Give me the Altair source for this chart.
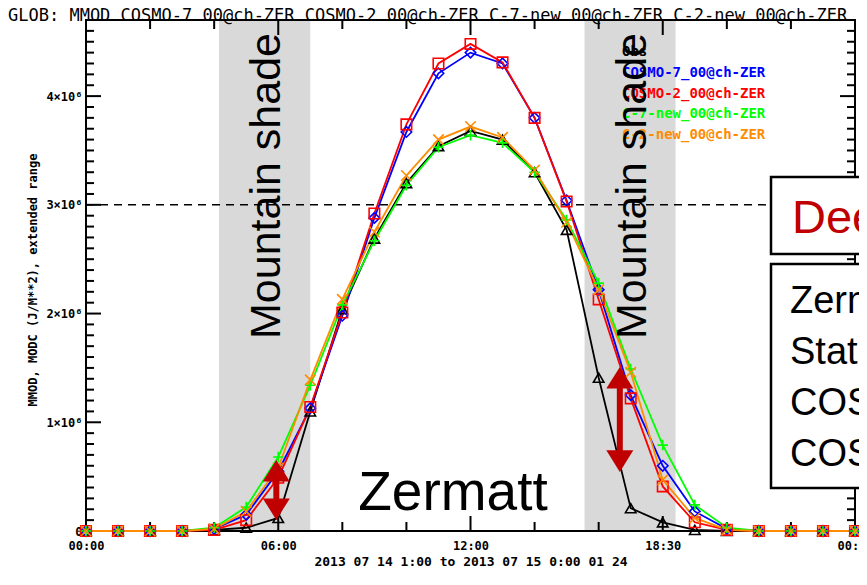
import altair as alt
import pandas as pd

# ---------------- data (values in 10^6 J/m^2) ----------------
hours = list(range(25))
obs    = [0, 0, 0, 0, 0.01, 0.03, 0.12, 1.10, 2.04, 2.69, 3.20, 3.54, 3.68, 3.60, 3.30, 2.77, 1.41, 0.21, 0.08, 0.01, 0, 0, 0, 0, 0]
cosmo7 = [0, 0, 0, 0, 0.02, 0.15, 0.55, 1.13, 1.98, 2.88, 3.67, 4.21, 4.40, 4.30, 3.80, 3.04, 2.22, 1.25, 0.60, 0.18, 0.02, 0, 0, 0, 0]
cosmo2 = [0, 0, 0, 0, 0.01, 0.10, 0.49, 1.14, 2.01, 2.92, 3.74, 4.30, 4.48, 4.31, 3.80, 3.03, 2.13, 1.22, 0.41, 0.08, 0.01, 0, 0, 0, 0]
c7new  = [0, 0, 0, 0, 0.03, 0.22, 0.68, 1.34, 2.08, 2.67, 3.18, 3.53, 3.64, 3.57, 3.30, 2.86, 2.28, 1.49, 0.79, 0.24, 0.03, 0, 0, 0, 0]
c2new  = [0, 0, 0, 0, 0.02, 0.18, 0.58, 1.39, 2.13, 2.75, 3.27, 3.60, 3.72, 3.62, 3.32, 2.84, 2.22, 1.46, 0.47, 0.12, 0.01, 0, 0, 0, 0]

series_names = ["Obs", "COSMO-7_00@ch-ZER", "COSMO-2_00@ch-ZER", "C-7-new_00@ch-ZER", "C-2-new_00@ch-ZER"]
series_values = [obs, cosmo7, cosmo2, c7new, c2new]
series_colors = ["#000000", "#0000ff", "#ff0000", "#00ff00", "#ff8c00"]
series_shapes = ["triangle-up", "diamond", "square", "M-1,0L1,0M0,-1L0,1", "M-1,-1L1,1M-1,1L1,-1"]

shade_start = [4.15, 15.56]
shade_end = [7.0, 18.4]

x_major = [0, 6, 12, 18, 24]
x_minor = [2, 4, 8, 10, 14, 16, 20, 22]
y_major = [0, 1, 2, 3, 4]
y_minor = [i / 10 for i in range(1, 47) if i % 10 != 0]

arrow_x = [5.94, 16.66]
arrow_top = [0.653, 1.509]
arrow_bottom = [0.101, 0.543]

title_text = "GLOB: MMOD COSMO-7 00@ch-ZER COSMO-2 00@ch-ZER C-7-new 00@ch-ZER C-2-new 00@ch-ZER"
ytitle_text = "MMOD, MODC (J/M**2), extended range"
xtitle_text = "2013 07 14 1:00 to 2013 07 15 0:00 01 24"
box2_lines = ["Zermatt", "Station", "COSMO-7", "COSMO-2"]

# ---------------- layout ----------------
W, H = 773, 511
PX24 = 769  # pixel of hour 24
XMAX = 24 * W / PX24
YMAX = 4.70e6

rows = []
for name, vals in zip(series_names, series_values):
    for h, v in zip(hours, vals):
        rows.append({"hour": h, "val": v * 1e6, "series": name})
df = pd.DataFrame(rows)

xs = alt.Scale(domain=[0, XMAX], nice=False, zero=False)
ys = alt.Scale(domain=[0, YMAX], nice=False, zero=False)

x_label_expr = ("datum.value==0?'00:00':datum.value==6?'06:00':datum.value==12?'12:00':"
                "datum.value==18?'18:30':'00:00'")
xax = alt.Axis(values=x_major, labelExpr=x_label_expr, ticks=False, domain=False, grid=False,
               labelFont="DejaVu Sans Mono", labelFontSize=12, labelFontWeight="bold",
               labelColor="black", labelPadding=9, title=None, labelFlush=False)
yax = alt.Axis(values=[v * 1e6 for v in y_major],
               labelExpr="datum.value==0?'0':format(datum.value/1e6,'d')+'×10⁶'",
               ticks=False, domain=False, grid=False,
               labelFont="DejaVu Sans Mono", labelFontSize=12, labelFontWeight="bold",
               labelColor="black", labelPadding=4, title=None)


def X(field, **kw):
    return alt.X(field, scale=xs, axis=xax, **kw)


def Y(field, **kw):
    return alt.Y(field, scale=ys, axis=yax, **kw)


layers = []

# shaded regions
shade_df = pd.DataFrame({"s": shade_start, "e": shade_end})
layers.append(alt.Chart(shade_df).mark_rect(color="#d9d9d9").encode(
    x=X("s:Q"), x2="e:Q", y=alt.value(0), y2=alt.value(H)))

# dashed line at 3e6
dash_df = pd.DataFrame({"x0": [0], "x1": [21.375], "y": [3e6]})
layers.append(alt.Chart(dash_df).mark_rule(color="black", strokeWidth=1.5, strokeDash=[8, 6]).encode(
    x=X("x0:Q"), x2="x1:Q", y=Y("y:Q")))

# frame
one = pd.DataFrame({"a": [0]})
layers.append(alt.Chart(one).mark_rect(fillOpacity=0, stroke="black", strokeWidth=2).encode(
    x=alt.value(0), x2=alt.value(PX24), y=alt.value(0), y2=alt.value(H)))

# tick marks (inward, IDL style)
for vals, ln in [(x_major, 15), (x_minor, 9)]:
    tdf = pd.DataFrame({"t": vals})
    layers.append(alt.Chart(tdf).mark_rule(color="black", strokeWidth=2).encode(
        x=X("t:Q"), y=alt.value(H), y2=alt.value(H - ln)))
    layers.append(alt.Chart(tdf).mark_rule(color="black", strokeWidth=2).encode(
        x=X("t:Q"), y=alt.value(0), y2=alt.value(ln)))
for vals, ln in [(y_major, 15), (y_minor, 8)]:
    tdf = pd.DataFrame({"t": [v * 1e6 for v in vals]})
    layers.append(alt.Chart(tdf).mark_rule(color="black", strokeWidth=2).encode(
        y=Y("t:Q"), x=alt.value(0), x2=alt.value(ln)))
    layers.append(alt.Chart(tdf).mark_rule(color="black", strokeWidth=2).encode(
        y=Y("t:Q"), x=alt.value(PX24 - ln), x2=alt.value(PX24)))

color_scale = alt.Scale(domain=series_names, range=series_colors)
shape_scale = alt.Scale(domain=series_names, range=series_shapes)

layers.append(alt.Chart(df).mark_line(strokeWidth=1.8).encode(
    x=X("hour:Q"), y=Y("val:Q"),
    color=alt.Color("series:N", scale=color_scale, legend=None),
    detail="series:N"))
layers.append(alt.Chart(df).mark_point(filled=False, size=110, strokeWidth=1.6, opacity=1).encode(
    x=X("hour:Q"), y=Y("val:Q"),
    color=alt.Color("series:N", scale=color_scale, legend=None),
    shape=alt.Shape("series:N", scale=shape_scale, legend=None)))

# legend texts
leg_y = [32, 53, 74, 94, 115]
for name, col, yy in zip(series_names, series_colors, leg_y):
    layers.append(alt.Chart(pd.DataFrame({"t": [name]})).mark_text(
        align="left", baseline="middle", font="DejaVu Sans Mono", fontSize=14, fontWeight="bold",
        color=col).encode(x=alt.value(536), y=alt.value(yy), text="t:N"))

# Mountain shade labels
for px in [194, 560]:
    layers.append(alt.Chart(pd.DataFrame({"t": ["Mountain shade"]})).mark_text(
        angle=270, align="center", baseline="alphabetic", font="Liberation Sans", fontSize=43,
        color="black").encode(x=alt.value(px), y=alt.value(166), text="t:N"))

# Zermatt
layers.append(alt.Chart(pd.DataFrame({"t": ["Zermatt"]})).mark_text(
    align="center", baseline="alphabetic", font="Liberation Sans", fontSize=55, color="black").encode(
    x=alt.value(367), y=alt.value(490), text="t:N"))

# red double arrows
adf = pd.DataFrame({"x": arrow_x, "top": [v * 1e6 for v in arrow_top],
                    "bot": [v * 1e6 for v in arrow_bottom]})
adf["stop"] = adf["top"] - 0.12e6
adf["sbot"] = adf["bot"] + 0.12e6
layers.append(alt.Chart(adf).mark_rule(color="#c00000", strokeWidth=6).encode(
    x=X("x:Q"), y=Y("stop:Q"), y2="sbot:Q"))
layers.append(alt.Chart(adf).mark_point(filled=True, opacity=1, size=729, color="#c00000",
                                        shape="M0,0L1,1.6L-1,1.6Z").encode(
    x=X("x:Q"), y=Y("top:Q")))
layers.append(alt.Chart(adf).mark_point(filled=True, opacity=1, size=729, color="#c00000",
                                        shape="M0,0L1,-1.6L-1,-1.6Z").encode(
    x=X("x:Q"), y=Y("bot:Q")))

# right-hand boxes (clipped at plot edge / window edge)
layers.append(alt.Chart(one).mark_rect(fill="white", stroke="black", strokeWidth=2.5, clip=True).encode(
    x=alt.value(685), x2=alt.value(900), y=alt.value(157), y2=alt.value(234)))
layers.append(alt.Chart(one).mark_rect(fill="white", stroke="black", strokeWidth=2.5, clip=True).encode(
    x=alt.value(685), x2=alt.value(900), y=alt.value(244), y2=alt.value(468)))
layers.append(alt.Chart(pd.DataFrame({"t": ["Deep valley"]})).mark_text(
    align="left", baseline="alphabetic", font="Liberation Sans", fontSize=47, color="#c00000",
    clip=True).encode(x=alt.value(706), y=alt.value(213), text="t:N"))
for i, line in enumerate(box2_lines):
    layers.append(alt.Chart(pd.DataFrame({"t": [line]})).mark_text(
        align="left", baseline="alphabetic", font="Liberation Sans", fontSize=38, color="black",
        clip=True).encode(x=alt.value(704), y=alt.value(293 + 51 * i), text="t:N"))

# titles
layers.append(alt.Chart(pd.DataFrame({"t": [title_text]})).mark_text(
    align="left", baseline="alphabetic", font="DejaVu Sans Mono", fontSize=17, color="black").encode(
    x=alt.value(-78), y=alt.value(0.5), text="t:N"))
layers.append(alt.Chart(pd.DataFrame({"t": [ytitle_text]})).mark_text(
    angle=270, align="center", baseline="middle", font="DejaVu Sans Mono", fontSize=12,
    fontWeight="bold", color="black").encode(x=alt.value(-53), y=alt.value(260), text="t:N"))
layers.append(alt.Chart(pd.DataFrame({"t": [xtitle_text]})).mark_text(
    align="center", baseline="middle", font="DejaVu Sans Mono", fontSize=13, fontWeight="bold",
    color="black").encode(x=alt.value(385), y=alt.value(542), text="t:N"))

chart = alt.layer(*layers).properties(
    width=W, height=H,
    autosize=alt.AutoSizeParams(type="none"),
    padding={"left": 78, "top": 12, "right": 0, "bottom": 38},
    background="white",
).configure_view(stroke=None)

chart.save("out.html", embed_options={"renderer": "svg", "actions": False})
